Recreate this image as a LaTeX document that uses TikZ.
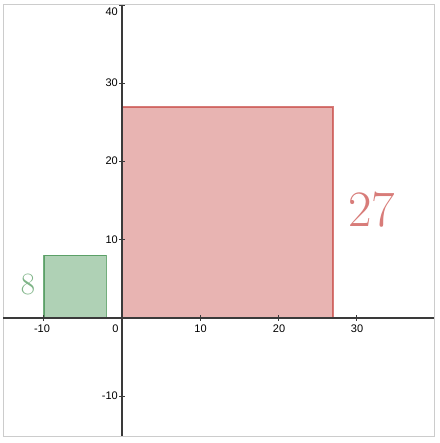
\documentclass[tikz,border=0pt]{standalone}
\usepackage{fontspec}
\newfontfamily\tickfont{Liberation Sans}
\definecolor{dred}{HTML}{C74440}
\definecolor{dgreen}{HTML}{388C46}
\definecolor{axisgray}{HTML}{3A3A3A}
\tikzset{
  axisline/.style={draw=axisgray, line width=1.1pt},
  tickmark/.style={draw=axisgray, line width=0.9pt},
  ticklab/.style={font=\tickfont\fontsize{11}{11}\selectfont, inner sep=0pt, text=black},
  redsq/.style={fill=dred, fill opacity=0.4, draw=dred, draw opacity=0.7, line width=1.6pt},
  greensq/.style={fill=dgreen, fill opacity=0.4, draw=dgreen, draw opacity=0.7, line width=1.6pt},
  biglab/.style={inner sep=0pt},
}
\begin{document}
\begin{tikzpicture}[x=1pt,y=-1pt]
\useasboundingbox (0,0) rectangle (439,443);
\fill[white] (0,0) rectangle (439,443);
\draw[draw=black!20, line width=0.8pt] (3,4) rectangle (434,436);
% squares
\begin{scope}[shift={(122,318)}, x=7.82pt, y=7.82pt]
  \path[redsq] (0,0) rectangle (27,27);
  \path[greensq] (-10,0) rectangle (-2,8);
\end{scope}
% axes
\draw[axisline] (3,318) -- (434,318);
\draw[axisline] (122,5) -- (122,436);
\begin{scope}[shift={(122,318)}, x=7.82pt, y=7.82pt]
  \foreach \v in {-10,10,20,30} {
    \draw[tickmark] (\v,0) ++(0,3pt) -- ++(0,-6pt);
  }
  \foreach \v in {-10,10,20,30,40} {
    \draw[tickmark] (0,\v) ++(-3pt,0) -- ++(6pt,0);
  }
\end{scope}
% tick labels x
\node[ticklab] (xm10) at (42,329) {-10};
\node[ticklab] (x0) at (115.5,329) {0};
\node[ticklab] (x10) at (200.5,329) {10};
\node[ticklab] (x20) at (279,329) {20};
\node[ticklab] (x30) at (357,329) {30};
% tick labels y
\node[ticklab, anchor=east] (y40) at (118,12) {40};
\node[ticklab, anchor=east] (y30) at (118,82.5) {30};
\node[ticklab, anchor=east] (y20) at (118,161) {20};
\node[ticklab, anchor=east] (y10) at (118,239.5) {10};
\node[ticklab, anchor=east] (ym10) at (118,395.5) {-10};
% big labels
\node[biglab, text=dred!70, font=\fontsize{51}{51}\selectfont] (l27) at (371.5,210) {27};
\node[biglab, text=dgreen!65, font=\fontsize{31}{31}\selectfont] (l8) at (28,285) {8};
\end{tikzpicture}
\end{document}
